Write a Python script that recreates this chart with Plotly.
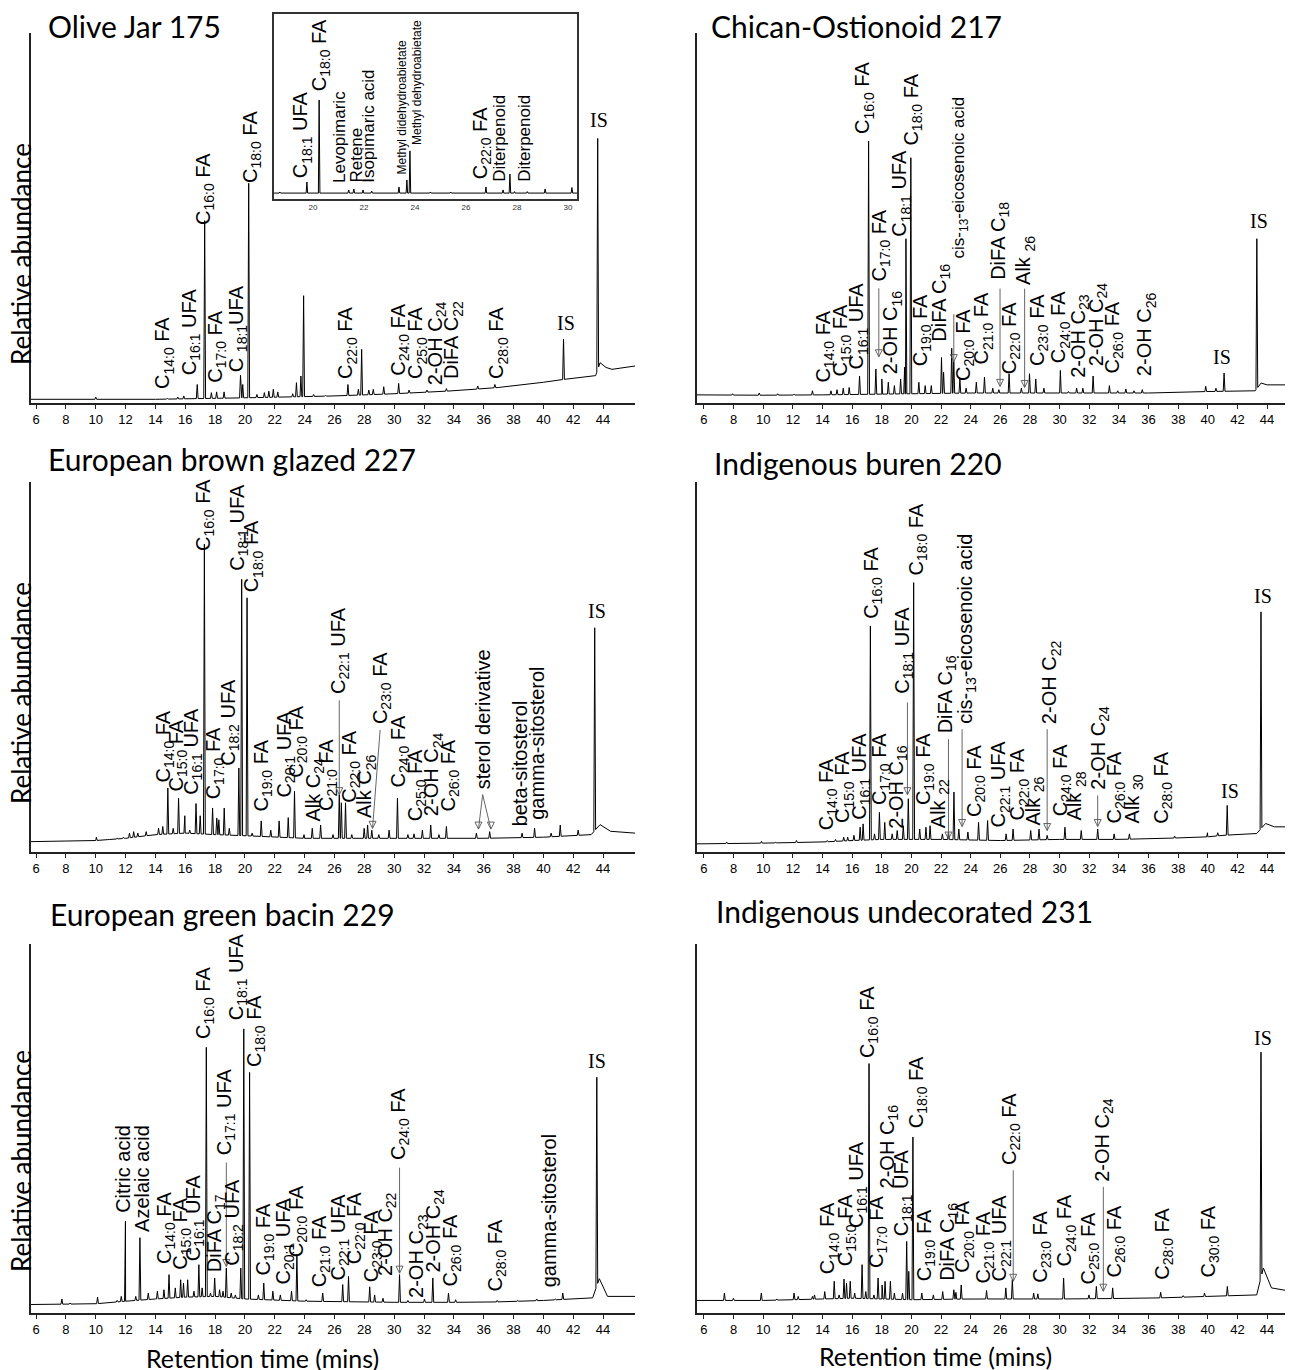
import re
import numpy as np
import plotly.graph_objects as go

W, H = 1293, 1370
OFF = 8                      # default page body margin of the html page
FW, FH = W - OFF, H - OFF    # figure size so that it ends at the window edge

TITLE_FONT = "Lato, Open Sans, sans-serif"
LABEL_FONT = "Liberation Sans, Arial, sans-serif"
TICK_FONT = "Liberation Sans Narrow, Liberation Sans, Arial, sans-serif"
SERIF_FONT = "Liberation Serif, Times New Roman, serif"

# ---------------------------------------------------------------- data
titles = ["Olive Jar 175", "Chican-Ostionoid 217", "European brown glazed 227",
          "Indigenous buren 220", "European green bacin 229", "Indigenous undecorated 231"]
x_ticks = [6, 8, 10, 12, 14, 16, 18, 20, 22, 24, 26, 28, 30, 32, 34, 36, 38, 40, 42, 44]
inset_ticks = [20, 22, 24, 26, 28, 30]
y_title = "Relative abundance"
x_title = "Retention time (mins)"

# ---- Panel 1 : Olive Jar 175
p1_base_t = [5.66, 14, 20, 26, 30, 34, 37, 40, 41, 43.5, 43.8, 44.2, 44.6, 46.14]
p1_base_v = [1.0, 1.0, 1.4, 1.9, 2.5, 3.3, 4.2, 5.6, 6.2, 7.4, 10.9, 9.6, 9.1, 10.0]
p1_peak_t = [10.0, 14.8, 15.5, 15.9, 16.8, 17.3, 17.75, 18.1, 18.6, 19.7, 19.85, 20.25, 20.8, 21.3,
             21.6, 21.9, 22.2, 23.2, 23.45, 23.75, 23.93, 24.6, 25.4, 26.9, 27.6, 27.82, 28.3, 28.6,
             29.3, 30.3, 31.0, 32.2, 33.5, 35.6, 36.75, 41.35, 43.64]
p1_peak_v = [1.6, 1.3, 1.6, 1.9, 5.0, 49.3, 2.8, 3.0, 3.0, 7.5, 5.0, 59.4, 2.3, 2.8,
             3.2, 3.7, 3.0, 2.5, 5.5, 7.3, 29.0, 2.3, 2.1, 5.0, 3.7, 14.5, 3.5, 3.7,
             4.4, 5.3, 3.5, 3.5, 3.9, 4.6, 5.0, 17.3, 71.5]
p1_lab_text = ["C{14:0} FA", "C{16:1} UFA", "C{16:0} FA", "C{17:0} FA", "C {18:1}UFA", "C{18:0} FA",
               "C{22:0} FA", "C{24:0} FA", "C{25:0} FA", "2-OH C{24}", "DiFA C{22}", "C{28:0} FA"]
p1_lab_t = [14.59, 16.4, 17.24, 18.07, 19.5, 20.44, 26.85, 30.34, 31.54, 32.85, 33.96, 36.97]
p1_lab_v = [3.3, 6.9, 47.5, 5.0, 7.8, 58.8, 6.0, 6.9, 6.0, 4.2, 6.0, 6.0]
p1_is_t = [41.5, 43.7]
p1_is_v = [18.2, 72.9]

# ---- Panel 1 inset
in_base_t = [18.47, 30.35]
in_base_v = [3.2, 3.2]
in_peak_t = [18.7, 19.76, 20.24, 21.4, 21.6, 21.96, 22.3, 23.37, 23.68, 23.8, 24.6, 25.4,
             26.78, 27.45, 27.72, 27.9, 28.4, 29.1, 30.15]
in_peak_v = [3.8, 9.2, 53.5, 4.9, 5.4, 4.9, 4.3, 6.5, 10.3, 26.0, 3.8, 3.8,
             6.5, 4.9, 13.5, 4.0, 4.0, 5.4, 6.2]
in_lab_text = ["C{18:1} UFA", "C{18:0} FA", "Levopimaric", "Retene", "Isopimaric acid",
               "Methyl didehydroabietate", "Methyl dehydroabietate", "C{22:0} FA",
               "Diterpenoid", "Diterpenoid"]
in_lab_t = [19.56, 20.27, 21.06, 21.69, 22.17, 23.48, 24.07, 26.61, 27.33, 28.31]
in_lab_v = [10.3, 57.1, 7.6, 7.6, 7.6, 12.1, 28.3, 9.4, 8.5, 8.5]
in_lab_size = [20, 20, 17, 17, 17, 12, 12, 20, 17, 17]

# ---- Panel 2 : Chican-Ostionoid 217
p2_base_t = [5.53, 10, 14, 18, 24, 30, 36, 40, 43.2, 43.6, 44.0, 45.75]
p2_base_v = [2.2, 2.1, 2.2, 2.4, 2.7, 2.7, 2.7, 3.1, 3.3, 5.4, 4.9, 4.9]
p2_peak_t = [7.93, 9.73, 10.98, 12.08, 13.32, 14.57, 14.98, 15.4, 15.8, 16.5, 17.11, 17.6, 18.0,
             18.44, 18.85, 19.27, 19.54, 19.63, 19.96, 20.5, 20.93, 21.34, 22.03, 22.17, 22.72,
             22.86, 23.27, 23.69, 24.38, 24.93, 25.49, 25.9, 26.59, 27.42, 27.97, 28.39, 28.94,
             30.05, 30.6, 31.15, 31.57, 32.26, 33.36, 33.92, 34.47, 35.02, 35.58, 39.86, 40.55,
             41.1, 43.31]
p2_peak_v = [2.5, 2.7, 2.5, 2.4, 3.3, 3.3, 3.6, 4.0, 4.2, 7.3, 70.8, 9.2, 6.5,
             5.6, 4.7, 6.5, 9.7, 44.4, 66.3, 5.6, 4.7, 4.7, 12.3, 8.3, 14.8,
             11.2, 6.5, 4.0, 5.6, 7.0, 4.0, 3.6, 7.9, 4.0, 7.9, 6.5, 4.0,
             8.8, 3.1, 4.0, 4.0, 7.3, 4.7, 3.3, 3.8, 3.3, 3.6, 4.5, 4.0,
             8.1, 44.4]
p2_lab_text = ["C{14:0} FA", "C{15:0} FA", "C{16:1} UFA", "C{16:0} FA", "C{17:0} FA", "2-OH C{16}",
               "C{18:1} UFA", "C{18:0} FA", "C{19:0} FA", "DiFA C{16}", "cis-{13}-eicosenoic acid",
               "C{20:0} FA", "C{21:0} FA", "DiFA C{18}", "C{22:0} FA", "Alk {26}", "C{23:0} FA",
               "C{24:0} FA", "2-OH C{23}", "2-OH C{24}", "C{26:0} FA", "2-OH C{26}"]
p2_lab_t = [14.15, 15.26, 16.36, 16.78, 17.88, 18.71, 19.27, 20.1, 20.65, 21.95, 23.27,
            23.55, 24.79, 25.9, 26.73, 27.64, 28.53, 30.05, 31.29, 32.53, 33.64, 35.85]
p2_lab_v = [4.9, 6.7, 8.5, 72.1, 32.3, 7.3, 44.4, 69.0, 9.4, 16.1, 38.5,
            5.4, 10.0, 32.7, 7.3, 31.4, 9.4, 10.3, 6.2, 9.4, 7.3, 6.8]
p2_is_t = [40.96, 43.45]
p2_is_v = [9.0, 45.7]
p2_arr_tail_t = [17.8, 22.86, 25.98, 27.64]
p2_arr_tail_v = [31.0, 24.0, 30.9, 30.9]
p2_arr_head_t = [17.8, 22.86, 25.98, 27.64]
p2_arr_head_v = [12.5, 11.2, 4.5, 4.2]

# ---- Panel 3 : European brown glazed 227
p3_base_t = [5.66, 10, 12, 14, 16, 18, 20, 24, 30, 36, 40, 43.2, 43.8, 44.5, 46.14]
p3_base_v = [2.8, 3.1, 3.7, 4.7, 5.1, 4.7, 4.4, 3.7, 3.7, 3.7, 4.0, 4.7, 7.4, 5.6, 5.1]
p3_peak_t = [10.04, 10.87, 11.43, 11.85, 12.26, 12.54, 12.82, 13.38, 14.21, 14.49, 14.83, 15.19,
             15.55, 15.97, 16.3, 16.72, 17.0, 17.28, 17.83, 18.11, 18.25, 18.61, 18.95, 19.59,
             19.78, 20.14, 20.48, 21.09, 21.73, 22.29, 22.9, 23.32, 23.96, 24.51, 25.07, 25.9,
             26.32, 26.46, 26.74, 27.16, 27.99, 28.22, 28.5, 28.97, 29.66, 30.22, 30.92, 31.33,
             31.89, 32.45, 33.0, 33.5, 35.51, 36.4, 38.57, 39.41, 40.52, 41.13, 42.33, 43.44]
p3_peak_v = [4.0, 3.4, 3.7, 4.0, 5.1, 5.5, 5.1, 5.5, 6.4, 6.9, 17.3, 6.4,
             14.5, 9.8, 5.9, 13.1, 9.8, 83.2, 11.9, 9.2, 8.7, 11.9, 6.4, 22.7,
             73.7, 68.7, 5.1, 8.4, 5.9, 8.4, 9.3, 16.4, 4.7, 6.4, 7.3, 4.7,
             15.5, 13.3, 13.3, 4.7, 6.4, 7.3, 5.9, 4.7, 5.9, 14.6, 4.7, 4.9,
             5.9, 7.3, 4.7, 6.9, 5.1, 5.5, 5.1, 6.4, 5.1, 7.3, 5.9, 60.6]
p3_lab_text = ["C{14:0} FA", "C{15:0} FA", "C{16:1} UFA", "C{16:0} FA", "C{17:0} FA", "C{18:2} UFA",
               "C{18:1} UFA", "C{18:0} FA", "C{19:0} FA", "C{20:1} UFA", "C{20:0} FA", "Alk C{24}",
               "C{21:0} FA", "C{22:1} UFA", "C{22:0} FA", "Alk C{26}", "C{23:0} FA", "C{24:0} FA",
               "C{25:0} FA", "2-OH C{24}", "C{26:0} FA", "sterol derivative", "beta-sitosterol",
               "gamma-sitosterol"]
p3_lab_t = [14.63, 15.47, 16.44, 17.28, 17.97, 18.95, 19.51, 20.53, 21.17, 22.7, 23.54, 24.65,
            25.49, 26.32, 27.02, 28.13, 29.11, 30.36, 31.47, 32.59, 33.7, 35.93, 38.43, 39.55]
p3_lab_v = [18.2, 15.9, 15.0, 80.9, 13.6, 22.7, 75.5, 69.6, 10.5, 14.1, 19.5, 7.8,
            10.5, 42.1, 12.7, 8.7, 34.0, 16.8, 7.8, 9.1, 10.5, 16.3, 6.4, 8.2]
p3_is_t = [43.58]
p3_is_v = [61.5]
p3_arr_tail_t = [26.32, 29.06, 35.93, 35.93]
p3_arr_tail_v = [41.0, 33.0, 15.5, 15.5]
p3_arr_head_t = [26.32, 28.55, 35.65, 36.48]
p3_arr_head_v = [15.5, 6.4, 6.2, 6.2]

# ---- Panel 4 : Indigenous buren 220
p4_base_t = [5.53, 10, 14, 16, 18, 22, 26, 30, 34, 38, 40, 41, 43.3, 43.9, 44.5, 45.75]
p4_base_v = [2.2, 2.4, 2.7, 3.1, 3.4, 3.4, 3.1, 3.4, 3.4, 3.8, 4.1, 4.5, 5.0, 7.7, 6.8, 6.8]
p4_peak_t = [7.53, 9.88, 10.85, 12.24, 14.32, 14.88, 15.43, 15.7, 16.12, 16.54, 16.74, 17.23,
             17.51, 17.84, 18.2, 18.7, 19.04, 19.45, 19.79, 20.15, 20.56, 20.98, 21.26, 22.09,
             22.5, 22.87, 23.2, 23.81, 24.53, 25.14, 26.39, 26.86, 28.05, 28.61, 29.16, 30.36,
             31.46, 32.57, 33.68, 34.71, 37.76, 39.98, 40.67, 41.31, 43.59]
p4_peak_v = [2.7, 2.9, 2.7, 3.1, 3.1, 3.4, 4.0, 4.0, 4.5, 6.7, 7.6, 61.1,
             4.9, 10.7, 8.0, 4.9, 5.8, 7.1, 14.4, 72.8, 6.2, 6.7, 7.1, 4.9,
             5.4, 16.2, 6.2, 5.4, 8.0, 8.5, 4.9, 6.2, 5.8, 6.2, 4.5, 6.7,
             5.8, 6.2, 4.9, 4.9, 4.3, 5.2, 5.2, 12.6, 64.9]
p4_lab_text = ["C{14:0} FA", "C{15:0} FA", "C{16:1} UFA", "C{16:0} FA", "C{17:0} FA", "2-OH C{16}",
               "C{18:1} UFA", "C{18:0} FA", "C{19:0} FA", "Alk {22}", "DiFA C{16}",
               "cis-{13}-eicosenoic acid", "C{20:0} FA", "C{22:1} UFA", "C{22:0} FA", "Alk {26}",
               "2-OH C{22}", "C{24:0} FA", "Alk {28}", "2-OH C{24}", "C{26:0} FA", "Alk {30}",
               "C{28:0} FA"]
p4_lab_t = [14.32, 15.43, 16.54, 17.32, 17.87, 19.04, 19.45, 20.42, 20.84, 21.87, 22.37,
            23.75, 24.31, 25.97, 27.22, 28.33, 29.44, 30.13, 31.1, 32.63, 33.74, 34.99, 36.93]
p4_lab_v = [5.4, 7.2, 8.1, 62.4, 12.1, 5.8, 42.2, 74.1, 12.1, 5.8, 31.4,
            34.1, 9.0, 6.2, 8.1, 6.7, 34.1, 9.0, 8.1, 16.2, 7.2, 7.2, 7.2]
p4_is_t = [41.5, 43.73]
p4_is_v = [13.0, 65.6]
p4_arr_tail_t = [19.73, 22.5, 23.42, 29.16, 32.57]
p4_arr_tail_v = [40.4, 30.5, 33.2, 33.2, 15.3]
p4_arr_head_t = [19.73, 22.5, 23.42, 29.16, 32.57]
p4_arr_head_v = [15.5, 3.5, 6.9, 5.8, 6.9]

# ---- Panel 5 : European green bacin 229
p5_base_t = [5.66, 10, 12, 14, 16, 18, 20, 24, 30, 36, 40, 43.3, 43.75, 44.3, 46.14]
p5_base_v = [2.3, 2.5, 3.2, 3.8, 4.3, 4.5, 3.8, 3.2, 2.9, 2.9, 3.4, 4.1, 9.3, 4.5, 4.5]
p5_peak_t = [7.73, 8.28, 10.12, 11.43, 11.71, 11.99, 12.35, 12.68, 12.96, 13.52, 14.13, 14.57,
             14.91, 15.33, 15.69, 15.88, 16.16, 16.58, 16.91, 17.13, 17.41, 17.69, 17.97, 18.3,
             18.53, 18.75, 19.08, 19.36, 19.72, 19.92, 20.31, 20.9, 21.26, 21.87, 22.37, 23.12,
             23.48, 24.1, 25.21, 26.55, 26.94, 28.36, 28.69, 29.25, 30.36, 30.92, 32.03, 32.59,
             33.64, 34.12, 36.9, 38.29, 39.55, 40.8, 41.3, 42.33, 43.58]
p5_peak_v = [3.8, 2.7, 4.3, 3.4, 4.5, 24.9, 3.4, 4.5, 20.4, 5.4, 5.9, 6.3,
             10.4, 6.8, 9.0, 8.1, 9.0, 5.9, 13.1, 6.8, 72.0, 5.4, 9.5, 6.3,
             5.9, 12.2, 5.4, 4.9, 12.2, 77.0, 65.2, 4.9, 8.1, 5.9, 4.9, 5.9,
             15.8, 3.6, 5.4, 7.7, 9.9, 7.1, 4.9, 4.0, 10.4, 3.4, 3.8, 9.5,
             5.4, 3.6, 3.4, 3.4, 3.8, 3.8, 5.4, 4.0, 63.9]
p5_lab_text = ["Citric acid", "Azelaic acid", "C{14:0} FA", "C{15:0} FA", "C{16:1} UFA", "C{16:0} FA",
               "DiFA C{17}", "C{17:1} UFA", "C{18:2} UFA", "C{18:1} UFA", "C{18:0} FA", "C{19:0} FA",
               "C{20:1} UFA", "C{20:0} FA", "C{21:0} FA", "C{22:1} UFA", "C{22:0} FA", "C{23:0} FA",
               "2-OH C{22}", "C{24:0} FA", "2-OH C{23}", "2-OH C{24}", "C{26:0} FA", "C{28:0} FA",
               "gamma-sitosterol"]
p5_lab_t = [11.85, 13.1, 14.63, 15.74, 16.58, 17.27, 18.03, 18.67, 19.22, 19.5, 20.67, 21.31,
            22.65, 23.54, 25.07, 26.32, 27.38, 28.55, 29.52, 30.36, 31.61, 32.73, 33.84, 36.85, 40.38]
p5_lab_v = [26.7, 21.3, 12.7, 11.3, 13.6, 73.8, 10.4, 42.1, 12.2, 78.8, 66.1, 9.5,
            7.2, 14.5, 6.3, 8.2, 12.7, 7.7, 9.5, 40.8, 3.6, 10.4, 6.8, 5.4, 6.3]
p5_is_t = [43.58]
p5_is_v = [64.8]
p5_arr_tail_t = [18.75, 30.36]
p5_arr_tail_v = [40.8, 39.4]
p5_arr_head_t = [18.75, 30.36]
p5_arr_head_v = [12.6, 10.8]

# ---- Panel 6 : Indigenous undecorated 231
p6_base_t = [5.53, 10, 14, 16, 18, 20, 24, 30, 36, 40, 43.3, 43.75, 44.3, 45.75]
p6_base_v = [3.4, 3.4, 3.8, 4.0, 3.8, 3.6, 3.8, 3.8, 4.0, 4.5, 4.9, 12.2, 6.8, 5.8]
p6_peak_t = [7.38, 7.99, 9.87, 10.92, 12.08, 12.36, 13.32, 13.46, 14.15, 14.79, 15.12, 15.45,
             15.62, 15.87, 16.17, 16.67, 16.92, 17.14, 17.47, 17.75, 18.02, 18.22, 18.58, 18.85,
             19.4, 19.68, 19.82, 20.1, 20.7, 21.48, 22.11, 22.86, 23.0, 23.36, 25.07, 26.37,
             26.81, 28.25, 28.53, 30.27, 31.98, 32.48, 33.58, 36.82, 38.34, 39.78, 41.32, 43.59]
p6_peak_v = [5.4, 4.0, 5.4, 3.8, 5.4, 4.5, 4.5, 4.9, 5.8, 8.6, 4.9, 9.2,
             8.1, 8.6, 5.4, 13.1, 5.8, 67.6, 4.9, 9.5, 7.6, 8.6, 8.6, 5.4,
             5.4, 19.4, 11.3, 47.7, 5.4, 4.9, 5.8, 6.3, 5.6, 7.6, 6.1, 6.8,
             9.0, 5.4, 5.2, 9.5, 4.9, 7.2, 6.8, 5.6, 4.7, 5.4, 7.2, 70.7]
p6_lab_text = ["C{14:0} FA", "C{15:0} FA", "C{16:1} UFA", "C{16:0} FA", "C{17:0} FA", "2-OH C{16}",
               "C{18:1} UFA", "C{18:0} FA", "C{19:0} FA", "DiFA C{16}", "C{20:0} FA", "C{21:0} FA",
               "C{22:1} UFA", "C{22:0} FA", "C{23:0} FA", "C{24:0} FA", "C{25:0} FA", "2-OH C{24}",
               "C{26:0} FA", "C{28:0} FA", "C{30:0} FA"]
p6_lab_t = [14.43, 15.67, 16.36, 17.06, 17.75, 18.44, 19.41, 20.37, 20.93, 22.45, 23.55, 24.93,
            26.04, 26.73, 28.8, 30.46, 31.98, 32.95, 33.78, 37.01, 40.13]
p6_lab_v = [9.9, 12.2, 22.5, 68.5, 11.7, 33.3, 20.3, 49.5, 8.1, 8.1, 10.4, 7.6,
            8.1, 39.6, 7.6, 12.2, 7.2, 35.1, 9.0, 8.6, 9.0]
p6_is_t = [43.73]
p6_is_v = [71.1]
p6_arr_tail_t = [26.87, 32.95]
p6_arr_tail_v = [38.7, 34.2]
p6_arr_head_t = [26.87, 32.95]
p6_arr_head_v = [8.6, 5.9]

# ---------------------------------------------------------------- helpers
LABEL_SIZE = 20


def fmt(s):
    return re.sub(r"\{([^}]*)\}", r"<sub>\1</sub>", s)


def chromatogram(base_t, base_v, peak_t, peak_v, w=0.06):
    bt = np.asarray(base_t, float)
    bv = np.asarray(base_v, float)
    pts = list(zip(bt.tolist(), bv.tolist()))
    for t, v in zip(peak_t, peak_v):
        for tt in (t - w, t + w):
            pts.append((tt, float(np.interp(tt, bt, bv))))
        pts.append((t, v))
    pts.sort(key=lambda p: p[0])
    return [p[0] for p in pts], [p[1] for p in pts]


panels = [
    dict(base=(p1_base_t, p1_base_v), peaks=(p1_peak_t, p1_peak_v),
         labs=(p1_lab_text, p1_lab_t, p1_lab_v), iss=(p1_is_t, p1_is_v), arrows=None),
    dict(base=(p2_base_t, p2_base_v), peaks=(p2_peak_t, p2_peak_v),
         labs=(p2_lab_text, p2_lab_t, p2_lab_v), iss=(p2_is_t, p2_is_v),
         arrows=(p2_arr_tail_t, p2_arr_tail_v, p2_arr_head_t, p2_arr_head_v)),
    dict(base=(p3_base_t, p3_base_v), peaks=(p3_peak_t, p3_peak_v),
         labs=(p3_lab_text, p3_lab_t, p3_lab_v), iss=(p3_is_t, p3_is_v),
         arrows=(p3_arr_tail_t, p3_arr_tail_v, p3_arr_head_t, p3_arr_head_v)),
    dict(base=(p4_base_t, p4_base_v), peaks=(p4_peak_t, p4_peak_v),
         labs=(p4_lab_text, p4_lab_t, p4_lab_v), iss=(p4_is_t, p4_is_v),
         arrows=(p4_arr_tail_t, p4_arr_tail_v, p4_arr_head_t, p4_arr_head_v)),
    dict(base=(p5_base_t, p5_base_v), peaks=(p5_peak_t, p5_peak_v),
         labs=(p5_lab_text, p5_lab_t, p5_lab_v), iss=(p5_is_t, p5_is_v),
         arrows=(p5_arr_tail_t, p5_arr_tail_v, p5_arr_head_t, p5_arr_head_v)),
    dict(base=(p6_base_t, p6_base_v), peaks=(p6_peak_t, p6_peak_v),
         labs=(p6_lab_text, p6_lab_t, p6_lab_v), iss=(p6_is_t, p6_is_v),
         arrows=(p6_arr_tail_t, p6_arr_tail_v, p6_arr_head_t, p6_arr_head_v)),
]

# ---------------------------------------------------------------- geometry (window pixels)
COL_X = [(31, 635), (697, 1293)]
ROW_Y = [(33, 403), (482, 852), (944, 1313)]
X_RANGE = [[5.66, 46.14], [5.53, 45.75]]
TITLE_POS = [(46, 26), (709, 26), (46, 459), (712, 463), (48, 914), (714, 911)]
YLAB_POS = [(21, 254), (21, 693), (21, 1161)]
XLAB_POS = [(263, 1358), (935, 1356)]
INSET_X = (274, 577)
INSET_Y = (14, 199)


def px_x(p):
    return (p - OFF) / FW


def px_y(p):
    return 1 - (p - OFF) / FH


fig = go.Figure()
layout = dict(width=FW, height=FH, margin=dict(l=0, r=0, t=0, b=0),
              paper_bgcolor="white", plot_bgcolor="white", showlegend=False,
              font=dict(family=LABEL_FONT, color="black"))
annotations = []
shapes = []

for i, p in enumerate(panels, start=1):
    r, c = (i - 1) // 2, (i - 1) % 2
    xs, ys = chromatogram(*p["base"], *p["peaks"])
    xa = "x" if i == 1 else f"x{i}"
    ya = "y" if i == 1 else f"y{i}"
    fig.add_trace(go.Scatter(x=xs, y=ys, mode="lines", xaxis=xa, yaxis=ya,
                             line=dict(color="black", width=1), hoverinfo="skip"))
    kx = "xaxis" if i == 1 else f"xaxis{i}"
    ky = "yaxis" if i == 1 else f"yaxis{i}"
    layout[kx] = dict(domain=[px_x(COL_X[c][0]), min(1.0, px_x(COL_X[c][1]))], anchor=ya,
                      range=X_RANGE[c], showline=True, linecolor="#222", linewidth=1.5,
                      ticks="outside", ticklen=4, tickwidth=1, tickcolor="#222",
                      tickvals=x_ticks, showgrid=False, zeroline=False,
                      tickfont=dict(family=TICK_FONT, size=13, color="black"))
    layout[ky] = dict(domain=[px_y(ROW_Y[r][1]), px_y(ROW_Y[r][0])], anchor=xa,
                      range=[0, 100], showline=True, linecolor="#222", linewidth=1.5,
                      ticks="", showticklabels=False, showgrid=False, zeroline=False)
    # title
    tx, ty = TITLE_POS[i - 1]
    annotations.append(dict(x=px_x(tx), y=px_y(ty), xref="paper", yref="paper",
                            text=titles[i - 1], showarrow=False, xanchor="left", yanchor="middle",
                            font=dict(family=TITLE_FONT, size=30, color="black")))
    # peak labels
    for txt, t, v in zip(*p["labs"]):
        size = 17 if (i == 2 and txt.startswith("cis")) else LABEL_SIZE
        annotations.append(dict(x=t, y=v, xref=xa, yref=ya, text=fmt(txt), textangle=-90,
                                xanchor="center", yanchor="bottom", showarrow=False,
                                font=dict(family=LABEL_FONT, size=size, color="black")))
    for t, v in zip(*p["iss"]):
        annotations.append(dict(x=t, y=v, xref=xa, yref=ya, text="IS", showarrow=False,
                                xanchor="center", yanchor="bottom",
                                font=dict(family=SERIF_FONT, size=20, color="black")))
    if p["arrows"]:
        tail_t, tail_v, head_t, head_v = p["arrows"]
        for tt, tv, ht, hv in zip(tail_t, tail_v, head_t, head_v):
            shapes.append(dict(type="line", xref=xa, yref=ya, x0=tt, y0=tv, x1=ht, y1=hv,
                               line=dict(color="#555", width=0.9)))
        fig.add_trace(go.Scatter(x=head_t, y=head_v, mode="markers", xaxis=xa, yaxis=ya,
                                 marker=dict(symbol="arrow-down-open", size=7, color="#555",
                                             line=dict(width=0.9, color="#555")),
                                 hoverinfo="skip"))

# y titles (left column) and x titles (bottom row)
for (yx, yy) in YLAB_POS:
    annotations.append(dict(x=px_x(yx), y=px_y(yy), xref="paper", yref="paper", text=y_title,
                            textangle=-90, showarrow=False, xanchor="center", yanchor="middle",
                            font=dict(family=TITLE_FONT, size=26, color="black")))
for (xx, xy) in XLAB_POS:
    annotations.append(dict(x=px_x(xx), y=px_y(xy), xref="paper", yref="paper", text=x_title,
                            showarrow=False, xanchor="center", yanchor="middle",
                            font=dict(family=TITLE_FONT, size=25, color="black")))

# ---- inset of panel 1
xs, ys = chromatogram(in_base_t, in_base_v, in_peak_t, in_peak_v, w=0.03)
fig.add_trace(go.Scatter(x=xs, y=ys, mode="lines", xaxis="x7", yaxis="y7",
                         line=dict(color="black", width=1), hoverinfo="skip"))
layout["xaxis7"] = dict(domain=[px_x(INSET_X[0]), px_x(INSET_X[1])], anchor="y7",
                        range=[18.47, 30.35], showline=True, mirror=True, linecolor="#333",
                        linewidth=1.5, ticks="", tickvals=inset_ticks, showgrid=False,
                        zeroline=False, tickfont=dict(family=LABEL_FONT, size=8, color="#333"))
layout["yaxis7"] = dict(domain=[px_y(INSET_Y[1]), px_y(INSET_Y[0])], anchor="x7",
                        range=[0, 100], showline=True, mirror=True, linecolor="#333",
                        linewidth=1.5, ticks="", showticklabels=False, showgrid=False,
                        zeroline=False)
for txt, t, v, sz in zip(in_lab_text, in_lab_t, in_lab_v, in_lab_size):
    annotations.append(dict(x=t, y=v, xref="x7", yref="y7", text=fmt(txt), textangle=-90,
                            xanchor="center", yanchor="bottom", showarrow=False,
                            font=dict(family=LABEL_FONT, size=sz, color="black")))

layout["annotations"] = annotations
layout["shapes"] = shapes
fig.update_layout(**layout)
fig.write_html("out.html")
